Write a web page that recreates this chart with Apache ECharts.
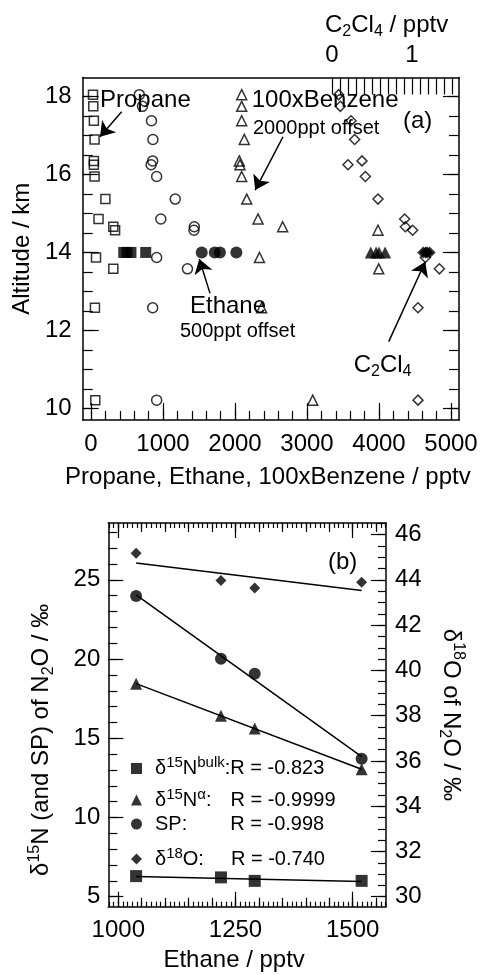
<!DOCTYPE html>
<html><head><meta charset="utf-8">
<script src="https://cdn.jsdelivr.net/npm/echarts@6/dist/echarts.min.js"></script>
<style>html,body{margin:0;padding:0;background:#fff}#c{width:487px;height:975px}</style>
</head><body><div id="c"></div>
<script>
// ===== Panel (a): vertical profiles =====
const altitudes  = [18.05, 17.75, 17.38, 16.9, 16.35, 16.25, 15.95, 15.37, 14.86, 14.66, 14.57, 13.87, 13.58, 12.58, 10.21];
const propane    = [28, 32, 40, 50, 40, 40, 50, 200, 105, 310, 335, 70, 310, 55, 60];
const ethane     = [171, 215, 340, 360, 357, 335, 412, 670, 470, 935, 930, 412, 840, 357, 412];
const benzene100 = [93, 93, 93, 129, 60, 69, 93, 163, 320, 662, 1986, 340, 1996, 370, 1079];
const c2cl4      = [0.083, 0.104, 0.238, 0.283, 0.375, 0.2, 0.417, 0.575, 0.908, 0.917, 1.008, 1.167, 1.342, 1.075, 1.075];
const ETHANE_OFFSET = 500;
const BENZENE_OFFSET = 2000;
// N2O samples (filled symbols, 14 km)
const sampleAlt        = [14.0, 14.0, 14.0, 14.0];
const ethaneSamples    = [1038, 1219, 1291, 1519];
const propaneSamples   = [455, 500, 555, 760];
const benzene100Samples= [1885, 1960, 2000, 2085];
const c2cl4Samples     = [1.14, 1.17, 1.19, 1.22];

// ===== Panel (b): isotopes vs ethane =====
const d15Nbulk  = [6.30, 6.22, 6.00, 6.00];
const d15Nalpha = [18.45, 16.42, 15.62, 13.05];
const spValues  = [23.98, 20.02, 19.07, 13.71];
const d18O      = [45.18, 43.97, 43.64, 43.90];
const fitEthane = [1038, 1519];
const fitBulk   = [6.28, 5.96];
const fitAlpha  = [18.45, 13.05];
const fitSP     = [24.05, 13.84];
const fitO18    = [44.75, 43.53];
const rValues   = ['-0.823', '-0.9999', '-0.998', '-0.740'];

// ===== tick values =====
const range = (a, b, s) => { const o = []; for (let i = 0; a + i * s <= b + 1e-9; i++) o.push(Math.round((a + i * s) * 1000) / 1000); return o; };
const aXMajor = [0, 1000, 2000, 3000, 4000, 5000];
const aXMinor = range(0, 5000, 200);
const aYMajor = [10, 12, 14, 16, 18];
const aYMinor = range(10, 18, 0.5);
const c2Ticks = range(0, 1.5, 0.1);
const c2Labels = [0, 1];
const bXMajor = [1000, 1250, 1500];
const bXMedium = range(1000, 1550, 50);
const bXMinor = range(980, 1570, 10);
const bYLMajor = [5, 10, 15, 20, 25];
const bYLMinor = range(5, 28, 1);
const bYRMajor = [30, 32, 34, 36, 38, 40, 42, 44, 46];
const bYRMinor = range(30, 46.5, 0.5);

// ===== scales =====
const aX = {min: -115, max: 5111};
const aY = {min: 9.70, max: 18.49};
const c2 = {min: -3.116, max: 1.5875};
const bX = {min: 978.7, max: 1571};
const bYL = {min: 4.37, max: 28.59};
const bYR = {min: 30 + (bYL.min - 5) * 0.7, max: 30 + (bYL.max - 5) * 0.7};

const FONT = '"Liberation Sans", Arial, Helvetica, sans-serif';
const K = '#000';

function ax(grid, pos, sc, ticks, len, o) {
  o = o || {};
  const t = ticks.filter(v => v >= sc.min - 1e-9 && v <= sc.max + 1e-9);
  const a = {
    type: 'value', gridIndex: grid, position: pos, min: sc.min, max: sc.max,
    splitLine: {show: false},
    axisLine: {show: !!o.line, onZero: false, lineStyle: {color: K, width: 1.5}},
    axisTick: {show: true, inside: true, length: len, customValues: t, lineStyle: {color: K, width: 1.2}},
    axisLabel: o.labels ? {show: true, customValues: o.labels, margin: o.margin, fontFamily: FONT, fontSize: 24, color: K,
                           formatter: v => String(v)} : {show: false},
    axisPointer: {show: false}, silent: true
  };
  if (o.name) {
    a.name = o.name; a.nameLocation = 'middle'; a.nameGap = o.nameGap;
    if (o.nameRotate != null) a.nameRotate = o.nameRotate;
    a.nameTextStyle = Object.assign({fontFamily: FONT, fontSize: 24, color: K}, o.nameStyle || {});
  }
  return a;
}

const richName = {
  m: {fontFamily: FONT, fontSize: 24, lineHeight: 30, color: K},
  sp: {fontFamily: FONT, fontSize: 16, lineHeight: 14, verticalAlign: 'top', color: K},
  sb: {fontFamily: FONT, fontSize: 16, lineHeight: 14, verticalAlign: 'bottom', color: K}
};

const xAxis = [
  ax(0, 'bottom', aX, aXMajor, 17, {line: true, labels: aXMajor, margin: 12, name: 'Propane, Ethane, 100xBenzene / pptv', nameGap: 45, nameStyle: {padding: [0, 6, 0, 0]}}),
  ax(0, 'bottom', aX, aXMinor, 9),
  ax(0, 'top', c2, c2Ticks, 17, {line: true, labels: c2Labels, margin: 10}),
  ax(1, 'bottom', bX, bXMajor, 15, {line: true, labels: bXMajor, margin: 12, name: 'Ethane / pptv', nameGap: 42, nameStyle: {padding: [0, 26, 0, 0]}}),
  ax(1, 'bottom', bX, bXMedium, 9),
  ax(1, 'bottom', bX, bXMinor, 5),
  ax(1, 'top', bX, bXMajor, 15, {line: true}),
  ax(1, 'top', bX, bXMedium, 9),
  ax(1, 'top', bX, bXMinor, 5)
];
const yAxis = [
  ax(0, 'left', aY, aYMajor, 16, {line: true, labels: aYMajor, margin: 11, name: 'Altitude / km', nameGap: 48, nameRotate: 90}),
  ax(0, 'left', aY, aYMinor, 10),
  ax(0, 'right', aY, aYMajor, 16, {line: true}),
  ax(0, 'right', aY, aYMinor, 10),
  ax(1, 'left', bYL, bYLMajor, 15, {line: true, labels: bYLMajor, margin: 8, nameRotate: 90, nameGap: 52,
     name: '{m|δ}{sp|15}{m|N (and SP) of N}{sb|2}{m|O / ‰}', nameStyle: {rich: richName, padding: [0, 50, 0, 0]}}),
  ax(1, 'left', bYL, bYLMinor, 9),
  ax(1, 'right', bYR, bYRMajor, 15, {line: true, labels: bYRMajor, margin: 9, nameRotate: -90, nameGap: 50,
     name: '{m|δ}{sp|18}{m|O of N}{sb|2}{m|O / ‰}', nameStyle: {rich: richName}}),
  ax(1, 'right', bYR, bYRMinor, 8)
];

const openStyle = {color: 'transparent', borderColor: K, borderWidth: 1.5};
const fillStyle = {color: K};
const arrowLine = (pairs) => ({
  silent: true, animation: false, symbol: ['none', 'arrow'], symbolSize: 14,
  lineStyle: {color: K, width: 1.5, type: 'solid'}, label: {show: false},
  data: pairs.map(p => [{coord: p[0]}, {coord: p[1]}])
});

function sc(name, xi, yi, data, symbol, size, style, extra) {
  return Object.assign({type: 'scatter', name, xAxisIndex: xi, yAxisIndex: yi, data, symbol, symbolSize: size,
    itemStyle: style, z: 3, silent: true}, extra || {});
}

const series = [
  sc('Propane', 0, 0, altitudes.map((a, i) => [propane[i], a]), 'rect', 9, openStyle,
     {markLine: arrowLine([[[426, 17.61], [125, 16.97]]])}),
  sc('Ethane', 0, 0, altitudes.map((a, i) => [ethane[i] + ETHANE_OFFSET, a]), 'circle', 10, openStyle,
     {markLine: arrowLine([[[1653, 12.95], [1504, 13.83]]])}),
  sc('100xBenzene', 0, 0, altitudes.map((a, i) => [benzene100[i] + BENZENE_OFFSET, a]), 'triangle', 10, openStyle,
     {markLine: arrowLine([[[2667, 16.97], [2280, 15.6]]])}),
  sc('C2Cl4', 2, 0, altitudes.map((a, i) => [c2cl4[i], a]), 'diamond', 10, openStyle,
     {markLine: arrowLine([[[0.709, 11.71], [1.166, 13.76]]])}),
  sc('Propane samples', 0, 0, sampleAlt.map((a, i) => [propaneSamples[i], a]), 'rect', 11, fillStyle),
  sc('Ethane samples', 0, 0, sampleAlt.map((a, i) => [ethaneSamples[i] + ETHANE_OFFSET, a]), 'circle', 12, fillStyle),
  sc('Benzene samples', 0, 0, sampleAlt.map((a, i) => [benzene100Samples[i] + BENZENE_OFFSET, a]), 'triangle', 12, fillStyle),
  sc('C2Cl4 samples', 2, 0, sampleAlt.map((a, i) => [c2cl4Samples[i], a]), 'diamond', 12, fillStyle),

  {type: 'line', xAxisIndex: 3, yAxisIndex: 4, data: fitEthane.map((x, i) => [x, fitBulk[i]]), showSymbol: false, lineStyle: {color: K, width: 1.5}, z: 2, silent: true},
  {type: 'line', xAxisIndex: 3, yAxisIndex: 4, data: fitEthane.map((x, i) => [x, fitAlpha[i]]), showSymbol: false, lineStyle: {color: K, width: 1.5}, z: 2, silent: true},
  {type: 'line', xAxisIndex: 3, yAxisIndex: 4, data: fitEthane.map((x, i) => [x, fitSP[i]]), showSymbol: false, lineStyle: {color: K, width: 1.5}, z: 2, silent: true},
  {type: 'line', xAxisIndex: 3, yAxisIndex: 6, data: fitEthane.map((x, i) => [x, fitO18[i]]), showSymbol: false, lineStyle: {color: K, width: 1.5}, z: 2, silent: true},
  sc('bulk', 3, 4, ethaneSamples.map((x, i) => [x, d15Nbulk[i]]), 'rect', 12, fillStyle),
  sc('alpha', 3, 4, ethaneSamples.map((x, i) => [x, d15Nalpha[i]]), 'triangle', 12, fillStyle),
  sc('sp', 3, 4, ethaneSamples.map((x, i) => [x, spValues[i]]), 'circle', 12, fillStyle),
  sc('o18', 3, 6, ethaneSamples.map((x, i) => [x, d18O[i]]), 'diamond', 11, fillStyle)
];

const LH = 26;
const legRich = {
  m: {fontFamily: FONT, fontSize: 20, lineHeight: LH, color: K},
  s: {fontFamily: FONT, fontSize: 15, lineHeight: 13, verticalAlign: 'top', color: K},
  g0: {fontSize: 20, lineHeight: LH, width: 8},
  g1: {fontSize: 20, lineHeight: LH, width: 19},
  g2: {fontSize: 20, lineHeight: LH, width: 43},
  g3: {fontSize: 20, lineHeight: LH, width: 27}
};
const legText = {
  bulk: '{g0| }{m|δ}{s|15}{m|N}{s|bulk}{m|:R = ' + rValues[0] + '}',
  alpha: '{g0| }{m|δ}{s|15}{m|N}{s|α}{m|:}{g1| }{m|R = ' + rValues[1] + '}',
  sp: '{g0| }{m|SP:}{g2| }{m|R = ' + rValues[2] + '}',
  o18: '{g0| }{m|δ}{s|18}{m|O:}{g3| }{m|R = ' + rValues[3] + '}'
};
const legCenters = [768.5, 800, 827, 859];
const legend = ['bulk', 'alpha', 'sp', 'o18'].map((n, i) => ({
  data: [n], left: 131, top: legCenters[i] - LH / 2, padding: 0, itemWidth: 11, itemHeight: 11,
  selectedMode: false, formatter: nm => legText[nm], textStyle: {rich: legRich}
}));

const txt = (x, y, text, size, rich) => ({type: 'text', x, y, silent: true,
  style: Object.assign({text, font: size + 'px ' + FONT, fill: K, align: 'left', verticalAlign: 'middle'}, rich ? {rich} : {})});
const annRich = {
  m: {fontFamily: FONT, fontSize: 24, lineHeight: 30, color: K},
  sb: {fontFamily: FONT, fontSize: 16, lineHeight: 12, verticalAlign: 'bottom', color: K}
};

const option = {
  animation: false,
  backgroundColor: '#fff',
  grid: [
    {left: 82.7, top: 77.5, width: 376.3, height: 342.5},
    {left: 108.3, top: 523, width: 277.7, height: 383.7}
  ],
  xAxis, yAxis, series, legend,
  graphic: [
    txt(100, 100, 'Propane', 24),
    txt(251.7, 100, '100xBenzene', 24),
    txt(253, 128.5, '2000ppt offset', 20),
    txt(403, 121.7, '(a)', 24),
    txt(190, 306.7, 'Ethane', 24),
    txt(180, 331, '500ppt offset', 20),
    txt(353.7, 365, '{m|C}{sb|2}{m|Cl}{sb|4}', 24, annRich),
    txt(325, 25, '{m|C}{sb|2}{m|Cl}{sb|4}{m| / pptv}', 24, annRich),
    txt(328, 562, '(b)', 24)
  ]
};
const chart = echarts.init(document.getElementById('c'), null, {renderer: 'canvas'});
chart.setOption(option);
</script></body></html>
